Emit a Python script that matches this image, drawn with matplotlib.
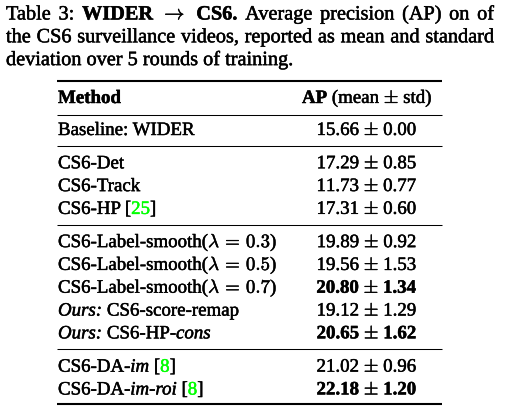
import re

import matplotlib
matplotlib.use("Agg")
import matplotlib.pyplot as plt
import matplotlib.patheffects as pe

plt.rcParams["font.family"] = ["Liberation Serif", "DejaVu Serif"]
plt.rcParams["mathtext.fontset"] = "cm"

# ---- content -------------------------------------------------------------
caption_lines = [
    "Table 3: **WIDER** $\\rightarrow$ **CS6.** Average precision (AP) on of",
    "the CS6 surveillance videos, reported as mean and standard",
    "deviation over 5 rounds of training.",
]
header_method = "**Method**"
header_ap = "**AP** (mean $\\pm$ std)"

methods = [
    "Baseline: WIDER",
    "CS6-Det",
    "CS6-Track",
    "CS6-HP [25]",
    "CS6-Label-smooth($\\lambda\\,=\\,0.3$)",
    "CS6-Label-smooth($\\lambda\\,=\\,0.5$)",
    "CS6-Label-smooth($\\lambda\\,=\\,0.7$)",
    "_Ours:_ CS6-score-remap",
    "_Ours:_ CS6-HP-_cons_",
    "CS6-DA-_im_ [8]",
    "CS6-DA-_im-roi_ [8]",
]
ap_mean = [15.66, 17.29, 11.73, 17.31, 19.89, 19.56, 20.80, 19.12, 20.65, 21.02, 22.18]
ap_std = [0.00, 0.85, 0.77, 0.60, 0.92, 1.53, 1.34, 1.29, 1.62, 0.96, 1.20]
is_best = [False, False, False, False, False, False, True, False, True, False, True]
group = [0, 1, 1, 1, 2, 2, 2, 2, 2, 3, 3]

# ---- layout (pixels, origin top-left) ------------------------------------
W, H = 506, 412
FS = 13.6
CAP_FS = 14.6
GREEN = "#00ff00"
CAP_X0, CAP_X1 = 6, 494
CAP_Y0, CAP_DY = 19.5, 22.8
TAB_X0, TAB_X1 = 57, 442
METHOD_X = 58
AP_CX = 367
ROW_Y0, ROW_DY, GROUP_GAP = 135, 22.8, 10.5
HEAD_Y = 103
INK = [pe.Stroke(linewidth=0.35), pe.Normal()]  # slightly heavier glyphs

fig = plt.figure(figsize=(W / 100, H / 100), dpi=100)
ax = fig.add_axes([0, 0, 1, 1])
ax.set_xlim(0, W)
ax.set_ylim(H, 0)
ax.axis("off")
renderer = fig.canvas.get_renderer()

STYLES = {
    "n": {},
    "b": {"fontweight": "bold"},
    "i": {"fontstyle": "italic"},
    "g": {"color": GREEN},
}


def parse(s):
    runs = []
    for tok in re.split(r"(\*\*[^*]+\*\*|_[^_]+_|\[\d+\])", s):
        if not tok:
            continue
        if tok.startswith("**"):
            runs.append((tok[2:-2], "b"))
        elif tok.startswith("_") and tok.endswith("_") and len(tok) > 1:
            runs.append((tok[1:-1], "i"))
        elif tok.startswith("["):
            runs += [("[", "n"), (tok[1:-1], "g"), ("]", "n")]
        else:
            runs.append((tok, "n"))
    return runs


_pipe_cache = {}


def width(s, style, fs):
    props = STYLES[style]
    key = (style, fs)
    if key not in _pipe_cache:
        t = ax.text(0, 0, "||", fontsize=fs, **props)
        _pipe_cache[key] = t.get_window_extent(renderer).width
        t.remove()
    t = ax.text(0, 0, "|" + s + "|", fontsize=fs, **props)
    w = t.get_window_extent(renderer).width - _pipe_cache[key]
    t.remove()
    return w


def runs_width(runs, fs):
    return sum(width(s, st, fs) for s, st in runs)


def draw_runs(x, y, runs, fs):
    for s, st in runs:
        core = s.strip(" ")
        lead = len(s) - len(s.lstrip(" "))
        if core:
            ax.text(x + lead * width(" ", st, fs), y, core, fontsize=fs,
                    va="baseline", ha="left", path_effects=INK, **STYLES[st])
        x += width(s, st, fs)
    return x


# ---- caption (first lines justified) -------------------------------------
for k, line in enumerate(caption_lines):
    y = CAP_Y0 + k * CAP_DY
    words = [parse(w) for w in line.split(" ")]
    if k < len(caption_lines) - 1:
        total = sum(runs_width(w, CAP_FS) for w in words)
        gap = (CAP_X1 - CAP_X0 - total) / (len(words) - 1)
    else:
        gap = width(" ", "n", CAP_FS)
    x = CAP_X0
    for w in words:
        x = draw_runs(x, y, w, CAP_FS) + gap

# ---- table -----------------------------------------------------------------
def row_y(i):
    return ROW_Y0 + i * ROW_DY + group[i] * GROUP_GAP


draw_runs(METHOD_X, HEAD_Y, parse(header_method), FS)
hdr = parse(header_ap)
draw_runs(AP_CX - runs_width(hdr, FS) / 2, HEAD_Y, hdr, FS)

for i, name in enumerate(methods):
    y = row_y(i)
    draw_runs(METHOD_X, y, parse(name), FS)
    ax.text(AP_CX, y, f"{ap_mean[i]:.2f} $\\pm$ {ap_std[i]:.2f}", fontsize=FS,
            va="baseline", ha="center", path_effects=INK,
            fontweight="bold" if is_best[i] else "normal")

# rules
rules = [(81, 1.5), (HEAD_Y + 11.5, 0.75), (row_y(len(methods) - 1) + 9.5, 1.5)]
for i in range(len(methods) - 1):
    if group[i + 1] != group[i]:
        rules.append((row_y(i) + 11, 0.75))
for y, lw in rules:
    ax.plot([TAB_X0, TAB_X1], [y, y], color="black", lw=lw,
            solid_capstyle="butt")

fig.savefig("out.png", dpi=100, facecolor="white")
